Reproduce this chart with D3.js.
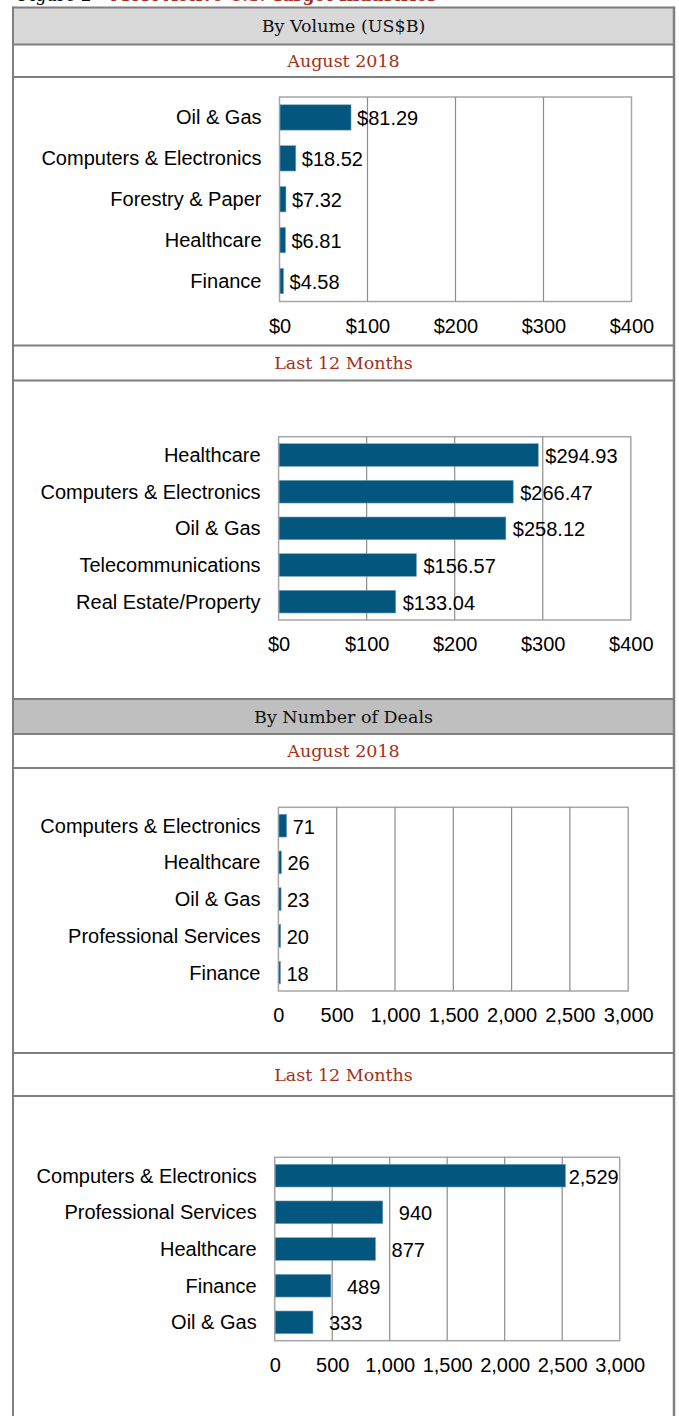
<!DOCTYPE html>
<html>
<head>
<meta charset="utf-8">
<script src="https://cdn.jsdelivr.net/npm/d3@7"></script>
<style>
  html, body { margin: 0; padding: 0; background: #fff; }
  svg { display: block; }
</style>
</head>
<body>
<svg id="chart" width="679" height="1416"></svg>
<script>
// data
const figureLabel = 'Figure 2'
const figureTitle = 'Most Active U.S. Target Industries'
const sectionTitles = ['By Volume (US$B)', 'By Number of Deals']
const periodTitles = ['August 2018', 'Last 12 Months']

const volAugCats = ['Oil & Gas', 'Computers & Electronics', 'Forestry & Paper', 'Healthcare', 'Finance']
const volAugVals = [81.29, 18.52, 7.32, 6.81, 4.58]

const volLtmCats = ['Healthcare', 'Computers & Electronics', 'Oil & Gas', 'Telecommunications', 'Real Estate/Property']
const volLtmVals = [294.93, 266.47, 258.12, 156.57, 133.04]

const dealAugCats = ['Computers & Electronics', 'Healthcare', 'Oil & Gas', 'Professional Services', 'Finance']
const dealAugVals = [71, 26, 23, 20, 18]

const dealLtmCats = ['Computers & Electronics', 'Professional Services', 'Healthcare', 'Finance', 'Oil & Gas']
const dealLtmVals = [2529, 940, 877, 489, 333]

const volTicks = [0, 100, 200, 300, 400]
const dealTicks = [0, 500, 1000, 1500, 2000, 2500, 3000]

const svg = d3.select('#chart')
const W = 679, H = 1416
const frameL = 13, frameR = 674
const sansFont = '"Liberation Sans", Arial, sans-serif'
const serifFont = '"DejaVu Serif", Georgia, serif'
const barColor = '#03577f'
const borderColor = '#7f7f7f'
const red = '#a3301c'

// figure title, mostly cut off by the top edge (as in the source page)
const title = svg.append('text')
  .attr('x', 18)
  .attr('y', 1)
  .style('font-family', serifFont)
  .style('font-size', '17px')
title.append('tspan').attr('fill', '#000').text(figureLabel + ' \u2013 ')
title.append('tspan').attr('fill', red).style('font-weight', 'bold').text(figureTitle)

// header rows: [top, bottom, fill, text, colour]
const rows = [
  [7.5, 44.5, '#d9d9d9', sectionTitles[0], '#111'],
  [44.5, 77, '#fff', periodTitles[0], red],
  [345.5, 380.5, '#fff', periodTitles[1], red],
  [699, 734, '#bfbfbf', sectionTitles[1], '#111'],
  [734, 768, '#fff', periodTitles[0], red],
  [1053, 1096, '#fff', periodTitles[1], red]
]

const rowG = svg.append('g')
rows.forEach(r => {
  rowG.append('rect')
    .attr('x', frameL)
    .attr('y', r[0])
    .attr('width', frameR - frameL)
    .attr('height', r[1] - r[0])
    .attr('fill', r[2])
  rowG.append('text')
    .attr('x', (frameL + frameR) / 2)
    .attr('y', (r[0] + r[1]) / 2)
    .attr('dy', '0.35em')
    .attr('text-anchor', 'middle')
    .attr('fill', r[4])
    .style('font-family', serifFont)
    .style('font-size', '17.5px')
    .text(r[3])
})

// horizontal rules between rows
const ruleYs = [7.5, 44.5, 77, 345.5, 380.5, 699, 734, 768, 1053, 1096]
rowG.selectAll('line.rule')
  .data(ruleYs)
  .join('line')
  .attr('class', 'rule')
  .attr('x1', frameL)
  .attr('x2', frameR)
  .attr('y1', d => d)
  .attr('y2', d => d)
  .attr('stroke', borderColor)
  .attr('stroke-width', 2)

// outer left / right border
rowG.append('line')
  .attr('x1', frameL).attr('x2', frameL)
  .attr('y1', 6.5).attr('y2', H)
  .attr('stroke', borderColor).attr('stroke-width', 2)
rowG.append('line')
  .attr('x1', frameR).attr('x2', frameR)
  .attr('y1', 6.5).attr('y2', H)
  .attr('stroke', borderColor).attr('stroke-width', 2.5)

function barChart(opts) {
  const { cats, vals, ticks, x0, x1, y0, y1, gap, tickY, fmtTick, fmtVal } = opts

  const x = d3.scaleLinear()
    .domain([ticks[0], ticks[ticks.length - 1]])
    .range([x0, x1])

  const y = d3.scaleBand()
    .domain(cats)
    .range([y0, y1])
    .paddingInner(0.38)
    .paddingOuter(0.19)

  const g = svg.append('g')

  // plot area frame
  g.append('rect')
    .attr('x', x0)
    .attr('y', y0)
    .attr('width', x1 - x0)
    .attr('height', y1 - y0)
    .attr('fill', '#fff')
    .attr('stroke', '#a6a6a6')
    .attr('stroke-width', 1.5)

  // vertical gridlines
  g.append('g')
    .selectAll('line')
    .data(ticks.slice(1, -1))
    .join('line')
    .attr('x1', d => x(d))
    .attr('x2', d => x(d))
    .attr('y1', y0)
    .attr('y2', y1)
    .attr('stroke', '#8c8c8c')
    .attr('stroke-width', 1.2)

  // bars
  g.append('g')
    .selectAll('rect')
    .data(cats)
    .join('rect')
    .attr('x', x0 + 0.5)
    .attr('y', d => y(d))
    .attr('width', (d, i) => Math.max(1, x(vals[i]) - x0 - 0.5))
    .attr('height', y.bandwidth())
    .attr('fill', barColor)
    .attr('stroke', '#7fa6bf')
    .attr('stroke-width', 0.6)

  // category labels
  g.append('g')
    .selectAll('text')
    .data(cats)
    .join('text')
    .attr('x', x0 - 18)
    .attr('y', d => y(d) + y.bandwidth() / 2)
    .attr('dy', '0.35em')
    .attr('text-anchor', 'end')
    .attr('fill', '#000')
    .style('font-family', sansFont)
    .style('font-size', '20px')
    .text(d => d)

  // value labels, kept inside the plot area
  g.append('g')
    .selectAll('text')
    .data(cats)
    .join('text')
    .attr('y', d => y(d) + y.bandwidth() / 2 + 1)
    .attr('dy', '0.35em')
    .attr('fill', '#000')
    .style('font-family', sansFont)
    .style('font-size', '20px')
    .text((d, i) => fmtVal(vals[i]))
    .each(function (d, i) {
      const w = this.getComputedTextLength()
      const lx = Math.min(x(vals[i]) + gap, x1 - w - 1)
      d3.select(this).attr('x', lx)
    })

  // x axis tick labels
  const axis = d3.axisBottom(x)
    .tickValues(ticks)
    .tickFormat(fmtTick)
    .tickSize(0)
    .tickPadding(0)

  const ax = g.append('g')
    .attr('transform', `translate(0,${tickY})`)
    .call(axis)
  ax.select('.domain').remove()
  ax.selectAll('text')
    .attr('y', 0)
    .attr('dy', '0.35em')
    .attr('fill', '#000')
    .style('font-family', sansFont)
    .style('font-size', '20px')
}

const fmtDollarTick = d => '$' + d
const fmtDollarVal = d => '$' + d3.format('.2f')(d)
const fmtComma = d3.format(',')

barChart({ cats: volAugCats, vals: volAugVals, ticks: volTicks,
  x0: 279.5, x1: 631.5, y0: 97, y1: 301.5, gap: 6, tickY: 326,
  fmtTick: fmtDollarTick, fmtVal: fmtDollarVal })

barChart({ cats: volLtmCats, vals: volLtmVals, ticks: volTicks,
  x0: 278.6, x1: 630.8, y0: 436.7, y1: 620, gap: 7, tickY: 644,
  fmtTick: fmtDollarTick, fmtVal: fmtDollarVal })

barChart({ cats: dealAugCats, vals: dealAugVals, ticks: dealTicks,
  x0: 278.4, x1: 628.2, y0: 807.3, y1: 991, gap: 6, tickY: 1015,
  fmtTick: fmtComma, fmtVal: fmtComma })

barChart({ cats: dealLtmCats, vals: dealLtmVals, ticks: dealTicks,
  x0: 274.7, x1: 619.7, y0: 1157.3, y1: 1340.7, gap: 16, tickY: 1365,
  fmtTick: fmtComma, fmtVal: fmtComma })
</script>
</body>
</html>
